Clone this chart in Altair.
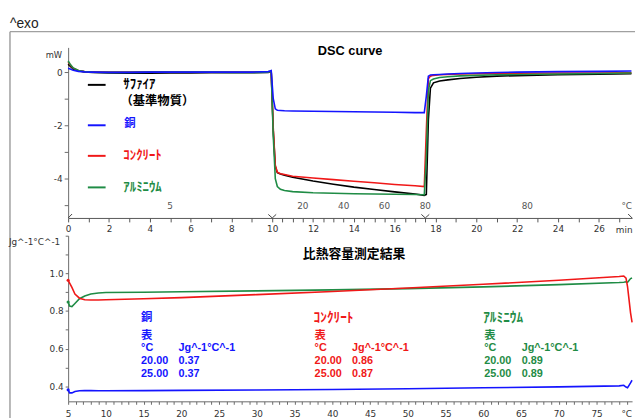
import altair as alt
import pandas as pd

# ---------------- data ----------------
series_names = ["ｻﾌｧｲｱ", "銅", "ｺﾝｸﾘｰﾄ", "ｱﾙﾐﾆｳﾑ"]
series_colors = ["#000000", "#1414ff", "#f01818", "#1f8c45"]

# DSC curve (time in min, heat flow in mW)
dsc_time = [0, 0.1, 0.25, 0.5, 0.8, 1.2,
            2, 3, 4, 5, 6, 7, 8, 9,
            9.8, 9.95,
            10.05, 10.15, 10.25, 10.4, 10.6,
            11, 12, 13, 14, 15, 16, 17,
            17.45, 17.55, 17.65, 17.75, 17.9,
            18.2, 18.6, 19.2,
            20, 21, 22, 24, 26, 27.6]
dsc_sapphire = [0.30, 0.22, 0.12, 0.05, 0.01, -0.01,
                -0.03, -0.04, -0.04, -0.03, -0.03, -0.02, -0.02, -0.02,
                -0.01, 0.02,
                -2.2, -3.55, -3.78, -3.83, -3.87,
                -3.95, -4.09, -4.21, -4.32, -4.41, -4.5, -4.58,
                -4.63, -4.6, -1.8, -0.6, -0.4,
                -0.33, -0.29, -0.24,
                -0.19, -0.15, -0.13, -0.1, -0.08, -0.06]
dsc_copper = [0.15, 0.12, 0.07, 0.03, 0.01, 0.0,
              -0.01, -0.01, 0.0, 0.0, 0.0, 0.0, 0.0, 0.0,
              0.02, 0.06,
              -1.0, -1.38, -1.43, -1.44, -1.45,
              -1.46, -1.47, -1.48, -1.49, -1.5, -1.51, -1.52,
              -1.52, -0.9, -0.15, -0.11, -0.1,
              -0.09, -0.07, -0.05,
              -0.03, -0.01, 0.0, 0.02, 0.03, 0.04]
dsc_concrete = [0.38, 0.28, 0.15, 0.06, 0.02, 0.01,
                0.0, 0.0, 0.01, 0.01, 0.0, 0.0, 0.0, 0.0,
                0.0, 0.03,
                -2.1, -3.5, -3.76, -3.82, -3.85,
                -3.91, -3.98, -4.04, -4.1, -4.16, -4.22, -4.27,
                -4.3, -2.2, -0.25, -0.15, -0.12,
                -0.1, -0.09, -0.07,
                -0.06, -0.05, -0.04, -0.03, -0.03, -0.02]
dsc_aluminium = [0.42, 0.3, 0.16, 0.06, 0.02, 0.0,
                 -0.01, -0.01, 0.0, 0.0, 0.0, 0.0, -0.01, -0.01,
                 0.0, 0.03,
                 -2.4, -4.0, -4.3, -4.4, -4.45,
                 -4.49, -4.53, -4.55, -4.57, -4.58, -4.59, -4.6,
                 -4.61, -3.2, -0.7, -0.32, -0.26,
                 -0.2, -0.17, -0.14,
                 -0.12, -0.1, -0.09, -0.07, -0.05, -0.03]

# temperature labels along the time axis
temp_label_time = [5, 11.5, 13.5, 15.5, 17.5, 22.5]
temp_label_text = ["5", "20", "40", "60", "80", "80"]
segment_bounds = [10, 17.5]
time_ticks = list(range(0, 10)) + [10 + 0.5 * i for i in range(16)] + list(range(18, 28))

# specific heat (temperature in °C, Jg^-1°C^-1)
cp_temp = [5.0, 5.2, 5.5, 5.9, 6.5, 7.2, 8, 9, 10, 15, 20, 30, 40, 50, 60, 70, 78,
           78.6, 78.9, 79.1, 79.3, 79.5, 79.7]
cp_copper = [0.381, 0.365, 0.365, 0.372, 0.376, 0.377, 0.377, 0.376, 0.376, 0.377, 0.378,
             0.380, 0.383, 0.387, 0.392, 0.397, 0.402, 0.405, 0.396, 0.392, 0.405, 0.418, 0.432]
cp_concrete = [0.963, 0.948, 0.925, 0.89, 0.868, 0.86, 0.858, 0.858, 0.86, 0.865, 0.871,
               0.887, 0.904, 0.922, 0.942, 0.963, 0.983, 0.986, 0.975, 0.93, 0.86, 0.79, 0.74]
cp_aluminium = [0.848, 0.826, 0.823, 0.84, 0.865, 0.88, 0.89, 0.896, 0.898, 0.90, 0.902,
                0.907, 0.912, 0.919, 0.928, 0.94, 0.951, 0.953, 0.955, 0.952, 0.962, 0.972, 0.975]

table_temps = ["20.00", "25.00"]
table_copper = ["0.37", "0.37"]
table_concrete = ["0.86", "0.87"]
table_aluminium = ["0.89", "0.89"]

# ---------------- layout ----------------
W = 572
H_TOP = 173
H_BOT = 168
AXIS_GRAY = "#6a6a6a"
LABEL_GRAY = "#333333"
JP = "Noto Sans CJK JP"
LAT = "Liberation Sans"

one = pd.DataFrame({"k": [0]})


def ptext(text, x, y, color="#000000", size=11, font=LAT, weight="normal",
          align="left", baseline="middle"):
    return alt.Chart(one).mark_text(
        text=text, font=font, fontSize=size, fontWeight=weight, color=color,
        align=align, baseline=baseline
    ).encode(x=alt.value(x), y=alt.value(y))


def prule(x, x2, y, y2, color, width=1.0, opacity=1.0):
    return alt.Chart(one).mark_rule(color=color, strokeWidth=width, opacity=opacity).encode(
        x=alt.value(x), x2=alt.value(x2), y=alt.value(y), y2=alt.value(y2))


# ---------- top panel ----------
x_top = alt.X("t:Q", title=None,
              scale=alt.Scale(domain=[0, 27.63], nice=False, zero=False),
              axis=alt.Axis(values=time_ticks,
                            labelExpr="datum.value % 2 == 0 ? '' + datum.value : ''",
                            tickSize=4, labelPadding=3, labelFlush=False,
                            labelOverlap=False, domainColor="#555555", tickColor="#555555"))
y_top = alt.Y("v:Q", scale=alt.Scale(domain=[-5.48, 0.93], nice=False, zero=False),
              axis=alt.Axis(values=[-5, -4, -3, -2, -1, 0],
                            labelExpr="datum.value % 2 == 0 ? '' + datum.value : ''",
                            tickSize=4, labelPadding=2, title="mW", titleAngle=0,
                            titleX=-15, titleY=7, titleAlign="center",
                            titleBaseline="middle", titleFont="DejaVu Sans",
                            titleFontSize=8.5, titleFontWeight="normal",
                            titleColor=LABEL_GRAY))

dsc_values = {"ｻﾌｧｲｱ": dsc_sapphire, "銅": dsc_copper,
              "ｺﾝｸﾘｰﾄ": dsc_concrete, "ｱﾙﾐﾆｳﾑ": dsc_aluminium}
color_of = dict(zip(series_names, series_colors))

top_layers = []
for name in ["ｻﾌｧｲｱ", "ｺﾝｸﾘｰﾄ", "ｱﾙﾐﾆｳﾑ", "銅"]:
    df = pd.DataFrame({"t": dsc_time, "v": dsc_values[name]})
    top_layers.append(alt.Chart(df).mark_line(color=color_of[name], strokeWidth=1.6)
                      .encode(x=x_top, y=y_top))

temp_df = pd.DataFrame({"t": temp_label_time, "lab": temp_label_text})
top_layers.append(alt.Chart(temp_df).mark_text(font="DejaVu Sans", fontSize=9,
                                               color="#555555", baseline="middle")
                  .encode(x=x_top, y=alt.value(161), text="lab:N"))
seg_df = pd.DataFrame({"t": segment_bounds})
top_layers.append(alt.Chart(seg_df).mark_point(shape="M-1,-0.9L0,0L1,-0.9", size=64,
                                               filled=False, color="#444444", strokeWidth=1,
                                               opacity=1)
                  .encode(x=x_top, y=alt.value(H_TOP)))
end_df = pd.DataFrame({"t": [0.0]})
top_layers.append(alt.Chart(end_df).mark_point(shape="M0,0L1,-1", size=64, filled=False,
                                               color="#444444", strokeWidth=1, opacity=1)
                  .encode(x=x_top, y=alt.value(H_TOP)))
end_df2 = pd.DataFrame({"t": [27.63]})
top_layers.append(alt.Chart(end_df2).mark_point(shape="M-1,-1L0,0", size=64, filled=False,
                                                color="#444444", strokeWidth=1, opacity=1)
                  .encode(x=x_top, y=alt.value(H_TOP)))

top_layers.append(ptext("°C", W, 160.5, color="#555555", size=9, font="DejaVu Sans",
                        align="right"))
top_layers.append(ptext("min", 564, 185.5, color=LABEL_GRAY, size=9, font="DejaVu Sans",
                        align="center"))
top_layers.append(ptext("DSC curve", 286, 3.5, size=13, weight="bold", align="center"))

# legend
legend_rows = [(38, "ｻﾌｧｲｱ"), (79, "銅"), (110, "ｺﾝｸﾘｰﾄ"), (142, "ｱﾙﾐﾆｳﾑ")]
for yy, name in legend_rows:
    top_layers.append(prule(20, 38, yy, yy, color_of[name], width=2))
    if name == "銅":
        top_layers.append(ptext(name, 57, yy - 1, color=color_of[name], size=11.5,
                                font=JP, weight="bold"))
    else:
        top_layers.append(ptext(name, 56, yy - 0.5, color=color_of[name], size=13,
                                font=JP, weight="bold"))
top_layers.append(ptext("（基準物質）", 53, 54, size=12.5, font=JP, weight="bold"))

# frame and header
top_layers.append(prule(-59, 575, -16, -16, "#a0a0a0", width=1.5))
top_layers.append(prule(-59, -59, -16, 376, "#a0a0a0", width=1.5))
top_layers.append(ptext("^exo", -59, -20, color="#222222", size=14, baseline="alphabetic"))
top_layers.append(prule(-59.5, -59.5, -36.5, -36.5, "#ffffff", width=1, opacity=0))

top = alt.layer(*top_layers).properties(width=W, height=H_TOP)

# ---------- bottom panel ----------
x_bot = alt.X("T:Q", title=None,
              scale=alt.Scale(domain=[5, 79.7], nice=False, zero=False),
              axis=alt.Axis(values=list(range(5, 80)),
                            labelExpr="datum.value % 5 == 0 ? '' + datum.value : ''",
                            tickSize=3, labelPadding=5, labelFlush=False,
                            labelOverlap=False))
y_bot = alt.Y("c:Q", title=None,
              scale=alt.Scale(domain=[0.32, 1.2], nice=False, zero=False),
              axis=alt.Axis(values=[0.4, 0.5, 0.6, 0.7, 0.8, 0.9, 1.0, 1.1, 1.2],
                            labelExpr="(round(datum.value * 10) % 2 == 0 && datum.value < 1.1) ? format(datum.value, '.1f') : ''",
                            tickSize=3, labelPadding=2))

cp_values = {"銅": cp_copper, "ｺﾝｸﾘｰﾄ": cp_concrete, "ｱﾙﾐﾆｳﾑ": cp_aluminium}
bot_layers = []
for name in ["ｱﾙﾐﾆｳﾑ", "ｺﾝｸﾘｰﾄ", "銅"]:
    df = pd.DataFrame({"T": cp_temp, "c": cp_values[name]})
    bot_layers.append(alt.Chart(df).mark_line(color=color_of[name], strokeWidth=1.6)
                      .encode(x=x_bot, y=y_bot))
    bot_layers.append(alt.Chart(df.iloc[:1]).mark_point(color=color_of[name], filled=True,
                                                        size=10, opacity=1)
                      .encode(x=x_bot, y=y_bot))

bot_layers.append(ptext("比熱容量測定結果", 290, 19, size=13, font=JP, weight="bold",
                        align="center"))
bot_layers.append(ptext("Jg^-1°C^-1", -8, 6, color=LABEL_GRAY, size=9, font="DejaVu Sans",
                        align="right"))
bot_layers.append(ptext("°C", W, 181, color=LABEL_GRAY, size=9, font="DejaVu Sans",
                        align="right"))

blocks = [("銅", 74, table_copper), ("ｺﾝｸﾘｰﾄ", 250, table_concrete),
          ("ｱﾙﾐﾆｳﾑ", 422, table_aluminium)]
for name, bx, vals in blocks:
    col = color_of[name]
    if name == "銅":
        bot_layers.append(ptext(name, bx, 84, color=col, size=11.5, font=JP, weight="bold"))
    else:
        bot_layers.append(ptext(name, bx - 1, 84, color=col, size=13.5, font=JP, weight="bold"))
    bot_layers.append(ptext("表", bx, 102, color=col, size=11.5, font=JP, weight="bold"))
    bot_layers.append(ptext("°C", bx, 114, color=col, size=11, weight="bold"))
    bot_layers.append(ptext("Jg^-1°C^-1", bx + 38, 114, color=col, size=11, weight="bold"))
    for i, (tt, vv) in enumerate(zip(table_temps, vals)):
        bot_layers.append(ptext(tt, bx, 127 + 13 * i, color=col, size=11, weight="bold"))
        bot_layers.append(ptext(vv, bx + 38, 127 + 13 * i, color=col, size=11, weight="bold"))

bottom = alt.layer(*bot_layers).properties(width=W, height=H_BOT)

chart = alt.vconcat(top, bottom, spacing=18, bounds="flush").properties(
    padding=0, background="white"
).configure_view(strokeWidth=0).configure_axis(
    grid=False, domainColor=AXIS_GRAY, tickColor=AXIS_GRAY, labelColor=LABEL_GRAY,
    labelFont="DejaVu Sans", labelFontSize=9, domainWidth=1, tickWidth=1
)

chart.save("out.html", embed_options={"renderer": "svg", "actions": False})
